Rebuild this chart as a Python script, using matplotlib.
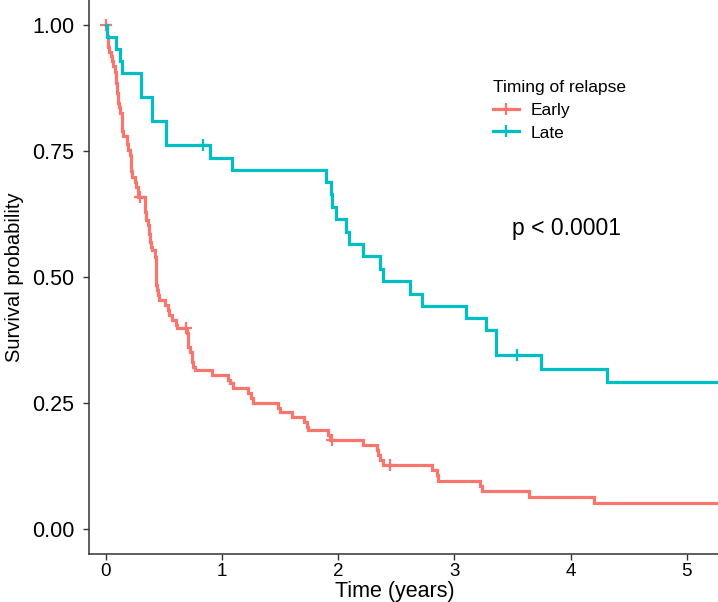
import matplotlib
matplotlib.use("Agg")
import matplotlib.pyplot as plt
from matplotlib.lines import Line2D

plt.rcParams['font.family'] = ['Liberation Sans', 'DejaVu Sans']

# ---- data ----
group_names = ["Early", "Late"]
legend_title = "Timing of relapse"
p_text = "p < 0.0001"

early_time = [0.0, 0.005, 0.012, 0.02, 0.03, 0.04, 0.05, 0.063, 0.075, 0.09, 0.092, 0.10,
              0.108, 0.115, 0.125, 0.135, 0.142, 0.149, 0.185, 0.192, 0.205, 0.212, 0.218,
              0.221, 0.25, 0.262, 0.275, 0.28, 0.336, 0.34, 0.344, 0.36, 0.372, 0.379, 0.39,
              0.393, 0.425, 0.428, 0.43, 0.433, 0.435, 0.437, 0.445, 0.457, 0.508, 0.53,
              0.545, 0.566, 0.58, 0.60, 0.612, 0.70, 0.705, 0.709, 0.72, 0.738, 0.745, 0.752,
              0.766, 0.91, 1.053, 1.07, 1.09, 1.226, 1.245, 1.268, 1.484, 1.498, 1.605, 1.705,
              1.728, 1.743, 1.91, 1.93, 2.21, 2.33, 2.345, 2.36, 2.388, 2.805, 2.848, 2.862,
              3.22, 3.234, 3.646, 4.204, 5.4]
early_surv = [1.0, 0.99, 0.978, 0.957, 0.947, 0.938, 0.928, 0.918, 0.908, 0.886, 0.865, 0.855,
              0.845, 0.838, 0.825, 0.805, 0.79, 0.779, 0.765, 0.752, 0.742, 0.732, 0.71,
              0.699, 0.689, 0.679, 0.669, 0.659, 0.645, 0.63, 0.613, 0.603, 0.585, 0.57, 0.56,
              0.553, 0.54, 0.52, 0.51, 0.50, 0.485, 0.474, 0.464, 0.454, 0.444, 0.434,
              0.424, 0.414, 0.414, 0.404, 0.398, 0.388, 0.375, 0.361, 0.352, 0.342, 0.332, 0.322,
              0.315, 0.305, 0.295, 0.289, 0.279, 0.269, 0.259, 0.249, 0.239, 0.232, 0.222, 0.212,
              0.202, 0.196, 0.186, 0.177, 0.166, 0.156, 0.146, 0.136, 0.126, 0.116, 0.106, 0.095,
              0.085, 0.075, 0.063, 0.052, 0.052]
early_cens_time = [0.0, 0.29, 0.686, 1.95, 2.446]
early_cens_surv = [1.0, 0.659, 0.398, 0.177, 0.126]

late_time = [0.0, 0.005, 0.086, 0.12, 0.14, 0.30, 0.40, 0.517, 0.90, 1.088, 1.895, 1.938,
             1.949, 1.978, 2.064, 2.093, 2.211, 2.36, 2.389, 2.618, 2.725, 3.098, 3.27, 3.359,
             3.744, 4.313, 5.4]
late_surv = [1.0, 0.976, 0.952, 0.929, 0.905, 0.857, 0.810, 0.762, 0.737, 0.713, 0.688, 0.664,
             0.639, 0.615, 0.590, 0.566, 0.541, 0.516, 0.492, 0.467, 0.443, 0.418, 0.394, 0.345,
             0.318, 0.292, 0.292]
late_cens_time = [0.838, 3.543]
late_cens_surv = [0.762, 0.345]

x_ticks = [0, 1, 2, 3, 4, 5]
y_ticks = [0.00, 0.25, 0.50, 0.75, 1.00]

colors = ["#F8766D", "#00BFC4"]

W, H = 718, 602
fig = plt.figure(figsize=(W / 100, H / 100), dpi=100)
ax = fig.add_axes([89 / W, 48 / H, (W - 89) / W, 554 / H])

lw = 2.3
for t, s, ct, cs, c in [(early_time, early_surv, early_cens_time, early_cens_surv, colors[0]),
                        (late_time, late_surv, late_cens_time, late_cens_surv, colors[1])]:
    ax.step(t, s, where="post", color=c, lw=lw, solid_joinstyle="miter")
    ax.plot(ct, cs, ls="none", marker="+", color=c, markersize=9, mew=1.6)

ax.set_xlim(-0.146, 5.27)
ax.set_ylim(-0.05, 1.05)
ax.set_xticks(x_ticks)
ax.set_xticklabels([str(v) for v in x_ticks])
ax.set_yticks(y_ticks)
ax.set_yticklabels([f"{v:.2f}" for v in y_ticks])
ax.tick_params(axis="x", labelsize=13.5, length=4.5, width=1, color="#333333", pad=2, labelcolor="black")
ax.tick_params(axis="y", labelsize=15.5, length=4.5, width=1, color="#333333", pad=6, labelcolor="black")

for side in ["top", "right"]:
    ax.spines[side].set_visible(False)
for side in ["left", "bottom"]:
    ax.spines[side].set_color("#333333")
    ax.spines[side].set_linewidth(1.1)

ax.set_xlabel("Time (years)", fontsize=15.5)
ax.xaxis.set_label_coords((395 - 89) / 629, -(581 - 554) / 554)
ax.set_ylabel("Survival probability", fontsize=14.5)
ax.yaxis.set_label_coords((24 - 89) / 629, 0.5)

ax.text(3.5, 0.597, p_text, fontsize=16.5, ha="left", va="center")

handles = [Line2D([0], [0], color=c, lw=lw, marker="+", markersize=9, mew=1.6) for c in colors]
leg = ax.legend(handles, group_names, title=legend_title, loc="upper left",
                bbox_to_anchor=(477 / W, 1 - 64 / H), bbox_transform=fig.transFigure,
                frameon=False, fontsize=12.5, title_fontsize=12.5, handlelength=1.5,
                handletextpad=0.7, labelspacing=0.45, alignment="left")

fig.savefig("out.png", dpi=100)
